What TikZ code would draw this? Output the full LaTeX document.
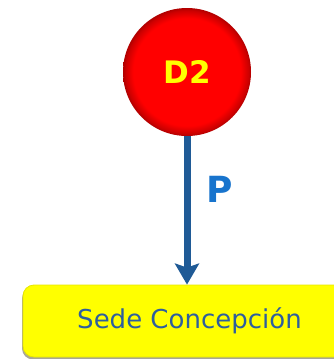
\documentclass[tikz,border=0pt]{standalone}
\usepackage{fontspec}
\setmainfont{DejaVu Sans}
\usetikzlibrary{arrows.meta,shadows}
\definecolor{balred}{HTML}{FF0000}
\definecolor{rimred}{HTML}{B00000}
\definecolor{arrowblue}{HTML}{1F5A96}
\definecolor{pblue}{HTML}{1874CD}
\definecolor{textblue}{HTML}{2E5E9E}
\definecolor{boxyellow}{HTML}{FFFF00}
\definecolor{boxrim}{HTML}{E6E600}
\pgfdeclareradialshading{ballshade}{\pgfpoint{0bp}{0bp}}{color(0bp)=(balred); color(21bp)=(balred); color(24bp)=(balred!80!black); color(25bp)=(rimred); color(50bp)=(rimred)}
\tikzset{
  ballnode/.style={circle, minimum size=128pt, inner sep=0pt, shading=ballshade, draw=none,
    font=\fontsize{31}{31}\selectfont\bfseries, text=boxyellow},
  boxnode/.style={rounded corners=11pt, minimum width=333pt, minimum height=72pt, inner sep=0pt,
    fill=boxyellow, draw=boxrim, line width=0.8pt,
    drop shadow={shadow xshift=-1pt, shadow yshift=-2.5pt, fill=black!60!yellow!50!gray, opacity=0.7},
    font=\fontsize{26}{26}\selectfont, text=textblue},
  conn/.style={line width=7pt, draw=arrowblue, -{Stealth[length=21pt,width=24pt,inset=4pt]}},
  plabel/.style={font=\fontsize{36}{36}\selectfont\bfseries, text=pblue}
}
\begin{document}
\begin{tikzpicture}[x=1pt,y=1pt]
\useasboundingbox (0,0) rectangle (334,-359);
\clip (0,0) rectangle (334,-359);
\node[ballnode] (d2) at (187,-72) {D2};
\node[boxnode] (sede) at (189.5,-321) {\raisebox{-2pt}{Sede Concepción}};
\draw[conn] (d2.south) -- (d2.south |- sede.north);
\node[plabel] (p) at (220,-189) {P};
\end{tikzpicture}
\end{document}
